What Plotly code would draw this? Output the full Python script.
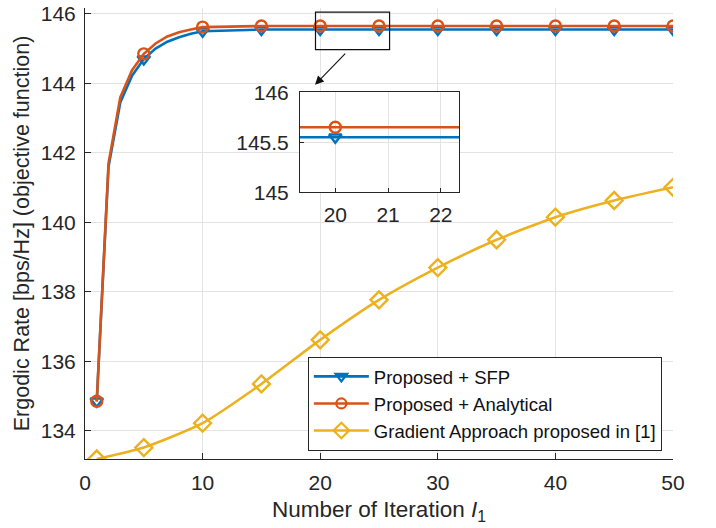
import plotly.graph_objects as go

# Iterations at which the objective was recorded
iters = [1, 2, 3, 4, 5, 6, 7, 8, 9, 10, 15, 20, 25, 30, 35, 40, 45, 50]
rate_sfp = [134.85, 141.6, 143.45, 144.22, 144.7, 145.0, 145.2, 145.33, 145.43, 145.5,
            145.55, 145.55, 145.55, 145.55, 145.55, 145.55, 145.55, 145.55]
rate_analytical = [134.85, 141.7, 143.6, 144.38, 144.85, 145.15, 145.35, 145.47, 145.55, 145.62,
                   145.65, 145.65, 145.65, 145.65, 145.65, 145.65, 145.65, 145.65]

# Gradient baseline, recorded every fifth iteration
iters_grad = [1, 5, 10, 15, 20, 25, 30, 35, 40, 45, 50]
rate_grad = [133.19, 133.52, 134.22, 135.35, 136.62, 137.77, 138.70, 139.50, 140.15, 140.63, 141.01]

# Iterations that carry a marker
marked = [1, 5, 10, 15, 20, 25, 30, 35, 40, 45, 50]

names = ["Proposed + SFP", "Proposed + Analytical", "Gradient Approach proposed in [1]"]
colors = ["#0072BD", "#D95319", "#EDB120"]
symbols = ["triangle-down-open", "circle-open", "diamond-open"]
msizes = [11, 11, 13]

LW = 2.6
fig = go.Figure()

series = [(iters, rate_sfp), (iters, rate_analytical)]
for k, (xs, ys) in enumerate(series):
    mx = [x for x in xs if x in marked]
    my = [y for x, y in zip(xs, ys) if x in marked]
    for xa, ya in (("x", "y"), ("x2", "y2")):
        fig.add_trace(go.Scatter(x=xs, y=ys, mode="lines", xaxis=xa, yaxis=ya,
                                 line=dict(color=colors[k], width=LW), showlegend=False,
                                 hoverinfo="skip"))
        fig.add_trace(go.Scatter(x=mx, y=my, mode="markers", xaxis=xa, yaxis=ya,
                                 marker=dict(symbol=symbols[k], size=msizes[k], color=colors[k],
                                             line=dict(width=2.4, color=colors[k])),
                                 showlegend=False))

fig.add_trace(go.Scatter(x=iters_grad, y=rate_grad, mode="lines+markers",
                         line=dict(color=colors[2], width=LW, shape="spline", smoothing=0.6),
                         marker=dict(symbol=symbols[2], size=msizes[2], color=colors[2],
                                     line=dict(width=2.4, color=colors[2])),
                         showlegend=False))

# Legend entries (line + marker)
for k in range(3):
    fig.add_trace(go.Scatter(x=[None], y=[None], mode="lines+markers", name=names[k],
                             line=dict(color=colors[k], width=LW),
                             marker=dict(symbol=symbols[k], size=msizes[k] - 1, color=colors[k],
                                         line=dict(width=2.2, color=colors[k]))))

FONT = "Liberation Sans, Arial, Helvetica, sans-serif"
AX = "#262626"
GRID = "#E3E3E3"

fig.update_layout(
    width=716, height=528,
    margin=dict(l=85, r=43, t=8, b=69),
    paper_bgcolor="white", plot_bgcolor="white",
    font=dict(family=FONT, size=21, color=AX),
    showlegend=True,
    legend=dict(x=0.379, y=0.018, xanchor="left", yanchor="bottom",
                bgcolor="white", bordercolor=AX, borderwidth=1,
                font=dict(size=18.5, color="#111111"), tracegroupgap=0,
                itemwidth=55),
    xaxis=dict(range=[0, 50], tickvals=[0, 10, 20, 30, 40, 50], automargin=False,
               showgrid=True, gridcolor=GRID, gridwidth=1, zeroline=False,
               showline=True, linecolor=AX, linewidth=1, ticks="inside", ticklen=6,
               tickcolor=AX, mirror=False, ticklabelstandoff=5,
               title=dict(text="Number of Iteration <i>I</i><sub>1</sub>", standoff=8,
                          font=dict(size=22.5))),
    yaxis=dict(range=[133.19, 146.17], tickvals=[134, 136, 138, 140, 142, 144, 146],
               automargin=False,
               showgrid=True, gridcolor=GRID, gridwidth=1, zeroline=False,
               showline=True, linecolor=AX, linewidth=1, ticks="inside", ticklen=6,
               tickcolor=AX, mirror=False, ticklabelstandoff=4,
               title=dict(text="Ergodic Rate [bps/Hz] (objective function)", standoff=5,
                          font=dict(size=21.5))),
    xaxis2=dict(domain=[0.3656, 0.6366], anchor="y2", range=[19.33, 22.35],
                tickvals=[20, 21, 22], showgrid=True, gridcolor=GRID, zeroline=False,
                showline=True, linecolor=AX, linewidth=1, mirror=True, automargin=False,
                ticks="inside", ticklen=4, tickcolor=AX, ticklabelstandoff=4),
    yaxis2=dict(domain=[0.5914, 0.8131], anchor="x2", range=[145, 146],
                tickvals=[145, 145.5, 146], ticktext=["145", "145.5", "146"],
                showgrid=True, gridcolor=GRID, zeroline=False, automargin=False,
                showline=True, linecolor=AX, linewidth=1, mirror=True,
                ticks="inside", ticklen=4, tickcolor=AX, ticklabelstandoff=6),
)

# Zoom window and pointer to the inset
fig.add_shape(type="rect", xref="x", yref="y", x0=19.6, x1=25.9, y0=144.97, y1=146.05,
              line=dict(color="#111111", width=1.2), layer="above")
fig.add_annotation(xref="x", yref="y", axref="x", ayref="y",
                   x=19.56, y=143.96, ax=22.25, ay=144.90, text="",
                   showarrow=True, arrowhead=2, arrowsize=1.6, arrowwidth=1.1,
                   arrowcolor="#111111")

fig.write_html("out.html")
